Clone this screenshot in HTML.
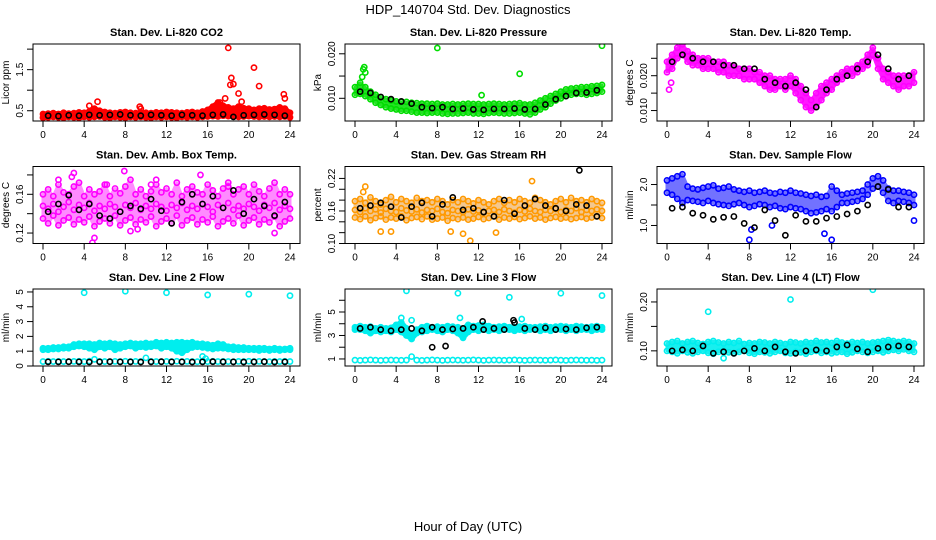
<!DOCTYPE html>
<html><head><meta charset="utf-8"><style>
html,body{margin:0;padding:0;background:#fff;}
svg{display:block;font-family:"Liberation Sans",sans-serif;}
</style></head><body>
<svg id="chart" width="936" height="540" viewBox="0 0 936 540" xmlns="http://www.w3.org/2000/svg">
<text x="468" y="14" text-anchor="middle" font-size="13">HDP_140704  Std. Dev. Diagnostics</text>
<text x="468" y="531" text-anchor="middle" font-size="13">Hour of Day (UTC)</text>
</svg>
<script>
const hours=[0,0.5,1,1.5,2,2.5,3,3.5,4,4.5,5,5.5,6,6.5,7,7.5,8,8.5,9,9.5,10,10.5,11,11.5,12,12.5,13,13.5,14,14.5,15,15.5,16,16.5,17,17.5,18,18.5,19,19.5,20,20.5,21,21.5,22,22.5,23,23.5,24];
const hourMid=[0.5,1.5,2.5,3.5,4.5,5.5,6.5,7.5,8.5,9.5,10.5,11.5,12.5,13.5,14.5,15.5,16.5,17.5,18.5,19.5,20.5,21.5,22.5,23.5];
const xTicks=[0,4,8,12,16,20,24];

const co2Hi=[0.42,0.43,0.44,0.42,0.45,0.43,0.44,0.46,0.45,0.48,0.55,0.50,0.47,0.45,0.44,0.46,0.47,0.45,0.44,0.46,0.45,0.44,0.46,0.45,0.47,0.46,0.45,0.44,0.46,0.47,0.45,0.48,0.52,0.60,0.70,0.62,0.58,0.55,0.60,0.56,0.55,0.52,0.55,0.56,0.53,0.54,0.58,0.55,0.45];
const co2Lo=[0.33,0.34,0.35,0.34,0.33,0.35,0.34,0.33,0.35,0.34,0.35,0.36,0.34,0.33,0.35,0.34,0.33,0.35,0.34,0.35,0.34,0.33,0.35,0.34,0.35,0.34,0.33,0.35,0.34,0.35,0.34,0.35,0.36,0.37,0.36,0.38,0.37,0.36,0.35,0.36,0.37,0.36,0.35,0.36,0.35,0.36,0.35,0.36,0.34];
const co2Black=[0.38,0.37,0.39,0.38,0.40,0.39,0.40,0.41,0.39,0.38,0.40,0.39,0.38,0.40,0.39,0.38,0.40,0.41,0.35,0.39,0.40,0.41,0.40,0.38];
const co2OutX=[4.5,5.3,9.4,9.5,17.2,17.7,18.0,18.2,18.3,18.5,19.3,20.5,21.0,19.0,23.4,23.5];
const co2OutY=[0.62,0.72,0.60,0.55,0.70,0.80,2.03,1.13,1.30,1.15,0.72,1.55,1.10,0.92,0.90,0.80];

const presHi=[0.0125,0.0135,0.0125,0.0115,0.0108,0.0102,0.0098,0.0095,0.0093,0.0092,0.0092,0.0090,0.0089,0.0088,0.0088,0.0087,0.0088,0.0086,0.0086,0.0087,0.0086,0.0087,0.0088,0.0087,0.0087,0.0086,0.0087,0.0088,0.0087,0.0086,0.0087,0.0088,0.0089,0.0086,0.0086,0.0090,0.0095,0.0100,0.0105,0.0110,0.0115,0.0120,0.0122,0.0123,0.0125,0.0125,0.0127,0.0128,0.0130];
const presLo=[0.0108,0.0110,0.0105,0.0098,0.0090,0.0085,0.0080,0.0077,0.0075,0.0072,0.0072,0.0070,0.0068,0.0068,0.0067,0.0068,0.0068,0.0066,0.0065,0.0066,0.0066,0.0067,0.0068,0.0066,0.0066,0.0065,0.0067,0.0068,0.0067,0.0066,0.0066,0.0067,0.0068,0.0066,0.0064,0.0068,0.0075,0.0080,0.0088,0.0095,0.0100,0.0105,0.0108,0.0110,0.0110,0.0108,0.0110,0.0112,0.0115];
const presBlack=[0.0115,0.0112,0.0103,0.0098,0.0093,0.0088,0.0080,0.0078,0.0080,0.0076,0.0077,0.0075,0.0074,0.0076,0.0076,0.0077,0.0075,0.0076,0.0086,0.0098,0.0105,0.0112,0.0113,0.0118];
const presOutX=[0.8,0.9,1.0,8.0,12.3,16.0,24.0,0.7];
const presOutY=[0.0165,0.0170,0.0158,0.0213,0.0107,0.0155,0.0218,0.0148];

const tempHi=[0.024,0.026,0.028,0.029,0.027,0.026,0.025,0.025,0.025,0.024,0.024,0.024,0.023,0.023,0.022,0.022,0.022,0.021,0.021,0.020,0.020,0.019,0.019,0.019,0.020,0.019,0.017,0.015,0.013,0.015,0.017,0.018,0.019,0.020,0.021,0.022,0.022,0.023,0.024,0.026,0.028,0.025,0.022,0.021,0.020,0.020,0.020,0.020,0.021];
const tempLo=[0.021,0.022,0.025,0.026,0.024,0.023,0.023,0.022,0.022,0.022,0.021,0.021,0.020,0.020,0.020,0.019,0.019,0.019,0.018,0.017,0.016,0.016,0.017,0.016,0.017,0.015,0.013,0.011,0.010,0.011,0.013,0.015,0.016,0.018,0.019,0.020,0.020,0.021,0.022,0.023,0.026,0.022,0.019,0.018,0.017,0.016,0.017,0.017,0.018];
const tempBlack=[0.024,0.026,0.025,0.024,0.024,0.023,0.023,0.022,0.022,0.019,0.018,0.017,0.018,0.016,0.011,0.016,0.019,0.020,0.022,0.024,0.026,0.022,0.019,0.020];
const tempOutX=[0.2,0.4];
const tempOutY=[0.016,0.018];

const boxHi=[0.160,0.165,0.158,0.170,0.162,0.160,0.168,0.172,0.158,0.165,0.160,0.163,0.170,0.158,0.166,0.161,0.168,0.175,0.160,0.165,0.158,0.163,0.170,0.162,0.166,0.160,0.172,0.158,0.165,0.168,0.162,0.160,0.170,0.164,0.158,0.166,0.172,0.160,0.165,0.168,0.160,0.170,0.163,0.158,0.166,0.172,0.160,0.165,0.160];
const boxMid=[0.148,0.145,0.150,0.142,0.147,0.152,0.144,0.149,0.146,0.151,0.143,0.148,0.145,0.150,0.147,0.142,0.149,0.146,0.151,0.144,0.148,0.145,0.150,0.147,0.143,0.149,0.146,0.151,0.144,0.148,0.145,0.150,0.147,0.142,0.149,0.146,0.151,0.144,0.148,0.145,0.150,0.147,0.143,0.149,0.146,0.151,0.144,0.148,0.145];
const boxLo=[0.135,0.130,0.138,0.128,0.133,0.136,0.129,0.134,0.131,0.137,0.127,0.132,0.135,0.130,0.138,0.128,0.133,0.136,0.129,0.134,0.131,0.137,0.127,0.132,0.135,0.130,0.138,0.128,0.133,0.136,0.129,0.134,0.131,0.137,0.127,0.132,0.135,0.130,0.138,0.128,0.133,0.136,0.129,0.134,0.131,0.137,0.127,0.132,0.135];
const boxBlack=[0.142,0.150,0.159,0.144,0.150,0.138,0.135,0.142,0.148,0.145,0.155,0.143,0.130,0.152,0.160,0.150,0.158,0.146,0.164,0.140,0.155,0.148,0.138,0.152];
const boxOutX=[1.5,2.8,3.0,4.8,5.0,8.5,9.2,10.5,11.0,15.3,18.0,22.5,7.9,6.2];
const boxOutY=[0.175,0.178,0.182,0.110,0.115,0.122,0.124,0.170,0.175,0.180,0.168,0.120,0.184,0.170];

const rhHi=[0.178,0.182,0.175,0.185,0.178,0.172,0.180,0.186,0.176,0.182,0.178,0.175,0.184,0.178,0.180,0.176,0.182,0.178,0.172,0.180,0.176,0.182,0.178,0.174,0.180,0.176,0.172,0.178,0.182,0.175,0.180,0.176,0.182,0.178,0.175,0.184,0.180,0.176,0.172,0.178,0.182,0.176,0.184,0.178,0.180,0.176,0.182,0.178,0.175];
const rhMid=[0.162,0.158,0.165,0.160,0.163,0.157,0.164,0.160,0.158,0.165,0.161,0.159,0.163,0.157,0.162,0.160,0.164,0.158,0.156,0.162,0.160,0.158,0.163,0.159,0.161,0.157,0.160,0.162,0.158,0.163,0.160,0.157,0.162,0.159,0.164,0.160,0.158,0.162,0.160,0.164,0.158,0.162,0.160,0.165,0.158,0.162,0.160,0.163,0.160];
const rhLo=[0.148,0.145,0.150,0.143,0.147,0.150,0.144,0.148,0.146,0.150,0.143,0.147,0.149,0.145,0.150,0.144,0.146,0.148,0.142,0.147,0.145,0.148,0.144,0.146,0.149,0.145,0.147,0.150,0.144,0.148,0.146,0.149,0.145,0.147,0.150,0.146,0.148,0.144,0.147,0.149,0.146,0.148,0.145,0.147,0.149,0.146,0.148,0.150,0.147];
const rhBlack=[0.165,0.170,0.175,0.168,0.148,0.168,0.175,0.150,0.172,0.185,0.162,0.165,0.158,0.150,0.180,0.155,0.170,0.182,0.170,0.165,0.160,0.172,0.170,0.150];
const rhOutX=[0.8,2.5,3.5,9.3,10.5,11.2,13.7,17.2,1.0];
const rhOutY=[0.195,0.122,0.122,0.122,0.118,0.105,0.120,0.215,0.205];
const rhBlackOutX=[21.8];
const rhBlackOutY=[0.235];

const flowHi=[2.10,2.15,2.20,2.25,1.95,1.90,1.88,1.92,1.95,1.98,1.90,1.92,1.95,1.88,1.85,1.82,1.85,1.80,1.82,1.85,1.80,1.78,1.82,1.80,1.85,1.80,1.78,1.75,1.72,1.75,1.70,1.72,1.95,1.85,1.75,1.78,1.80,1.82,1.85,2.00,2.15,2.20,2.10,1.90,1.85,1.85,1.82,1.80,1.75];
const flowLo=[1.80,1.75,1.65,1.55,1.62,1.60,1.58,1.55,1.60,1.55,1.52,1.50,1.48,1.52,1.55,1.50,1.45,1.48,1.52,1.50,1.45,1.48,1.42,1.40,1.45,1.42,1.40,1.35,1.30,1.32,1.35,1.40,1.35,1.45,1.55,1.55,1.58,1.60,1.65,1.75,1.90,1.95,1.80,1.60,1.55,1.60,1.58,1.55,1.50];
const flowBlack=[1.42,1.45,1.30,1.25,1.15,1.20,1.22,1.05,0.95,1.38,1.12,0.76,1.25,1.10,1.10,1.18,1.22,1.28,1.35,1.50,1.95,1.88,1.45,1.45];
const flowOutX=[8.0,8.2,10.2,16.0,15.3,24.0];
const flowOutY=[0.65,0.90,1.0,0.65,0.80,1.12];

const l2Hi=[1.2,1.2,1.25,1.25,1.3,1.3,1.45,1.5,1.5,1.5,1.45,1.55,1.5,1.55,1.5,1.45,1.5,1.55,1.5,1.5,1.55,1.5,1.6,1.55,1.6,1.55,1.6,1.6,1.55,1.6,1.5,1.5,1.45,1.4,1.5,1.45,1.3,1.3,1.25,1.25,1.2,1.2,1.2,1.2,1.15,1.2,1.15,1.15,1.2];
const l2Lo=[1.1,1.1,1.15,1.15,1.2,1.2,1.3,1.35,1.3,1.2,1.1,1.3,1.2,1.3,1.1,1.2,1.3,1.35,1.2,1.3,1.25,1.3,1.35,1.2,1.3,1.2,1.0,0.9,1.1,1.25,1.3,1.25,1.2,1.15,1.2,1.2,1.15,1.1,1.1,1.1,1.1,1.1,1.05,1.1,1.05,1.1,1.05,1.1,1.1];
const l2Base=[0.30,0.32,0.30,0.31,0.30,0.29,0.31,0.32,0.30,0.33,0.45,0.31,0.30,0.29,0.31,0.30,0.32,0.30,0.31,0.30,0.55,0.31,0.30,0.29,0.31,0.30,0.32,0.30,0.31,0.30,0.29,0.31,0.30,0.32,0.30,0.31,0.30,0.29,0.31,0.30,0.32,0.30,0.31,0.30,0.29,0.31,0.30,0.32,0.30];
const l2Black=[0.28,0.28,0.29,0.28,0.27,0.28,0.29,0.28,0.28,0.27,0.28,0.29,0.28,0.28,0.27,0.28,0.29,0.28,0.28,0.27,0.28,0.29,0.27,0.28];
const l2OutX=[4,8,12,16,20,24,15.5,15.8];
const l2OutY=[4.95,5.05,4.95,4.8,4.85,4.75,0.65,0.5];

const l3Hi=[3.7,3.8,3.7,3.75,3.6,3.7,3.6,3.65,3.9,4.1,3.6,3.0,3.5,3.7,3.8,3.7,3.75,3.7,3.8,3.75,3.7,3.6,3.9,3.8,3.85,3.9,3.8,3.7,3.75,3.8,3.7,3.7,3.75,3.8,3.7,3.7,3.75,3.8,3.7,3.75,3.8,3.75,3.7,3.8,3.75,3.7,3.75,3.8,3.7];
const l3Lo=[3.5,3.5,3.4,3.2,3.4,3.3,3.4,3.3,3.5,3.3,3.0,2.7,3.2,3.3,3.4,3.5,3.4,3.3,3.5,3.4,3.2,2.8,3.3,3.5,3.4,3.5,3.4,3.5,3.4,3.5,3.5,3.4,3.5,3.4,3.5,3.5,3.4,3.5,3.4,3.5,3.5,3.4,3.5,3.4,3.5,3.5,3.4,3.5,3.5];
const l3Base=[0.9,0.88,0.9,0.92,0.9,0.88,0.9,0.91,0.9,0.89,0.9,1.2,0.9,0.88,0.9,0.92,0.9,0.88,0.9,0.91,0.9,0.89,0.9,0.92,0.9,0.88,0.9,0.91,0.9,0.89,0.9,0.92,0.9,0.88,0.9,0.91,0.9,0.89,0.9,0.92,0.9,0.88,0.9,0.91,0.9,0.89,0.9,0.88,0.9];
const l3Black=[3.6,3.7,3.5,3.4,3.5,3.6,3.4,3.7,3.5,3.55,3.6,3.7,3.5,3.6,3.5,4.1,3.6,3.5,3.65,3.5,3.55,3.5,3.65,3.7];
const l3BlackOutX=[7.5,8.8,12.4,15.4];
const l3BlackOutY=[2.0,2.1,4.2,4.3];
const l3OutX=[5,10,15,20,24,10.2,4.5,5.5,16.2];
const l3OutY=[6.8,6.6,6.25,6.6,6.4,4.5,4.5,4.3,4.4];

const l4Hi=[0.115,0.118,0.12,0.115,0.118,0.12,0.116,0.114,0.118,0.12,0.117,0.115,0.118,0.116,0.12,0.114,0.116,0.115,0.118,0.117,0.115,0.118,0.116,0.114,0.118,0.117,0.115,0.118,0.116,0.12,0.117,0.118,0.116,0.12,0.117,0.115,0.118,0.116,0.118,0.115,0.117,0.118,0.12,0.122,0.12,0.118,0.12,0.118,0.115];
const l4Lo=[0.100,0.098,0.095,0.100,0.097,0.095,0.098,0.100,0.096,0.094,0.098,0.100,0.097,0.095,0.098,0.100,0.096,0.094,0.098,0.097,0.095,0.098,0.100,0.096,0.095,0.098,0.097,0.094,0.098,0.100,0.096,0.098,0.095,0.097,0.098,0.094,0.097,0.100,0.098,0.096,0.098,0.100,0.097,0.100,0.102,0.100,0.103,0.100,0.098];
const l4Black=[0.100,0.102,0.100,0.110,0.095,0.098,0.095,0.100,0.105,0.100,0.108,0.098,0.095,0.100,0.102,0.100,0.108,0.112,0.104,0.098,0.105,0.108,0.110,0.108];
const l4OutX=[4,12,20,5.5];
const l4OutY=[0.18,0.205,0.225,0.085];

const NS='http://www.w3.org/2000/svg';
const svg=document.getElementById('chart');
function mk(tag,attrs,parent){const e=document.createElementNS(NS,tag);for(const k in attrs)e.setAttribute(k,attrs[k]);(parent||svg).appendChild(e);return e;}

const panels=[
 {name:'co2',title:'Stan. Dev. Li-820 CO2',ylab:'Licor ppm',col:0,row:0,ymin:0.25,ymax:2.125,ticks:[0.5,1.0,1.5,2.0],labels:['0.5','','1.5',''],color:'#ff0000',op:1,bands:[[co2Hi,co2Lo]],strands:[co2Hi,co2Lo],black:co2Black,outX:co2OutX,outY:co2OutY},
 {name:'pressure',title:'Stan. Dev. Li-820 Pressure',ylab:'kPa',col:1,row:0,ymin:0.0049,ymax:0.0222,ticks:[0.010,0.015,0.020],labels:['0.010','','0.020'],color:'#00dd00',op:0.85,bands:[[presHi,presLo]],strands:[presHi,presLo],black:presBlack,outX:presOutX,outY:presOutY},
 {name:'temp',title:'Stan. Dev. Li-820 Temp.',ylab:'degrees C',col:2,row:0,ymin:0.007,ymax:0.0291,ticks:[0.010,0.015,0.020,0.025],labels:['0.010','','0.020',''],color:'#ff00ff',op:0.9,bands:[[tempHi,tempLo]],strands:[tempHi,tempLo],black:tempBlack,outX:tempOutX,outY:tempOutY},
 {name:'amb-box-temp',title:'Stan. Dev. Amb. Box Temp.',ylab:'degrees C',col:0,row:1,ymin:0.1092,ymax:0.1887,ticks:[0.12,0.14,0.16,0.18],labels:['0.12','','0.16',''],color:'#ff00ff',op:0.45,bands:[[boxHi,boxLo]],strands:[boxHi,boxMid,boxLo],black:boxBlack,outX:boxOutX,outY:boxOutY},
 {name:'gas-stream-rh',title:'Stan. Dev. Gas Stream RH',ylab:'percent',col:1,row:1,ymin:0.10,ymax:0.242,ticks:[0.10,0.12,0.14,0.16,0.18,0.20,0.22],labels:['0.10','','','0.16','','','0.22'],color:'#ff9900',bandColor:'#e89020',op:0.5,bands:[[rhHi,rhLo]],strands:[rhHi,rhMid,rhLo],black:rhBlack,outX:rhOutX,outY:rhOutY,bOutX:rhBlackOutX,bOutY:rhBlackOutY},
 {name:'sample-flow',title:'Stan. Dev. Sample Flow',ylab:'ml/min',col:2,row:1,ymin:0.56,ymax:2.44,ticks:[1.0,1.5,2.0],labels:['1.0','','2.0'],color:'#0000ff',op:0.55,bands:[[flowHi,flowLo]],strands:[flowHi,flowLo],black:flowBlack,outX:flowOutX,outY:flowOutY},
 {name:'line2-flow',title:'Stan. Dev. Line 2 Flow',ylab:'ml/min',col:0,row:2,ymin:0,ymax:5.2,ticks:[0,1,2,3,4,5],labels:['0','1','2','3','4','5'],color:'#00eeee',op:1,bands:[[l2Hi,l2Lo]],strands:[l2Hi,l2Lo,l2Base],black:l2Black,outX:l2OutX,outY:l2OutY},
 {name:'line3-flow',title:'Stan. Dev. Line 3 Flow',ylab:'ml/min',col:1,row:2,ymin:0.4,ymax:6.96,ticks:[1,2,3,4,5,6],labels:['1','','3','','5',''],color:'#00eeee',op:1,bands:[[l3Hi,l3Lo]],strands:[l3Hi,l3Lo,l3Base],black:l3Black,outX:l3OutX,outY:l3OutY,bOutX:l3BlackOutX,bOutY:l3BlackOutY},
 {name:'line4-flow',title:'Stan. Dev. Line 4 (LT) Flow',ylab:'ml/min',col:2,row:2,ymin:0.069,ymax:0.2265,ticks:[0.10,0.15,0.20],labels:['0.10','','0.20'],color:'#00eeee',op:0.9,bands:[[l4Hi,l4Lo]],strands:[l4Hi,l4Lo],black:l4Black,outX:l4OutX,outY:l4OutY}
];

panels.forEach(p=>{
 const L=33+p.col*312, R=L+267, T=44+p.row*122.5, B=T+77;
 const x0=L+10, x1=L+257;
 const sx=v=>x0+(v/24)*(x1-x0);
 const sy=v=>B-(v-p.ymin)/(p.ymax-p.ymin)*(B-T);
 const g=mk('g',{});
 
 
 const t=mk('text',{x:(L+R)/2,y:T-8,'text-anchor':'middle','font-size':'11','font-weight':'bold'},g);
 t.textContent=p.title;
 
 
 const clip=mk('clipPath',{id:'c'+p.name},g);
 mk('rect',{x:L,y:T,width:R-L,height:B-T},clip);
 const pg=mk('g',{'clip-path':'url(#c'+p.name+')'},g);
 p.bands.forEach(b=>{
  let d='';
  hours.forEach((h,i)=>{d+=(i?'L':'M')+sx(h).toFixed(1)+','+sy(b[0][i]).toFixed(1);});
  for(let i=hours.length-1;i>=0;i--){d+='L'+sx(hours[i]).toFixed(1)+','+sy(b[1][i]).toFixed(1);}
  const band=mk('path',{d:d+'Z',fill:p.bandColor||p.color,stroke:p.bandColor||p.color,'stroke-width':p.op<1?'3':'5','stroke-linejoin':'round',opacity:p.op},pg);
  
  
 });
 p.strands.forEach(s=>{
  s.forEach((v,i)=>{
   const c=mk('circle',{cx:sx(hours[i]),cy:sy(v),r:2.6,fill:'none',stroke:p.color,'stroke-width':1.6},pg);
   
   
  });
 });
 p.outX.forEach((x,i)=>{
  const c=mk('circle',{cx:sx(x),cy:sy(p.outY[i]),r:2.6,fill:'none',stroke:p.color,'stroke-width':1.6},pg);
  
  
 });
 p.black.forEach((v,i)=>{
  const c=mk('circle',{cx:sx(hourMid[i]),cy:sy(v),r:2.6,fill:'none',stroke:'#000','stroke-width':1.6},pg);
  
  
 });
 (p.bOutX||[]).forEach((x,i)=>{
  const c=mk('circle',{cx:sx(x),cy:sy(p.bOutY[i]),r:2.6,fill:'none',stroke:'#000','stroke-width':1.6},pg);
  
  
 });
 const fr=mk('rect',{x:L,y:T,width:R-L,height:B-T,fill:'none',stroke:'#000','stroke-width':1},g);
 
 
 xTicks.forEach(v=>{
  mk('line',{x1:sx(v),x2:sx(v),y1:B,y2:B+6,stroke:'#000'},g);
  const lt=mk('text',{x:sx(v),y:B+17,'text-anchor':'middle','font-size':'10'},g);
  lt.textContent=v;
  
  
 });
 p.ticks.forEach((v,i)=>{
  const y=sy(v);
  mk('line',{x1:L-6,x2:L,y1:y,y2:y,stroke:'#000'},g);
  if(p.labels[i]){
   const lt=mk('text',{x:0,y:0,'text-anchor':'middle','font-size':'10',transform:'translate('+(L-10)+','+y+') rotate(-90)'},g);
   lt.textContent=p.labels[i];
   
   
  }
 });
 const yl=mk('text',{x:0,y:0,'text-anchor':'middle','font-size':'10',transform:'translate('+(L-24)+','+((T+B)/2)+') rotate(-90)'},g);
 yl.textContent=p.ylab;
 
 
});
</script>
</body></html>
